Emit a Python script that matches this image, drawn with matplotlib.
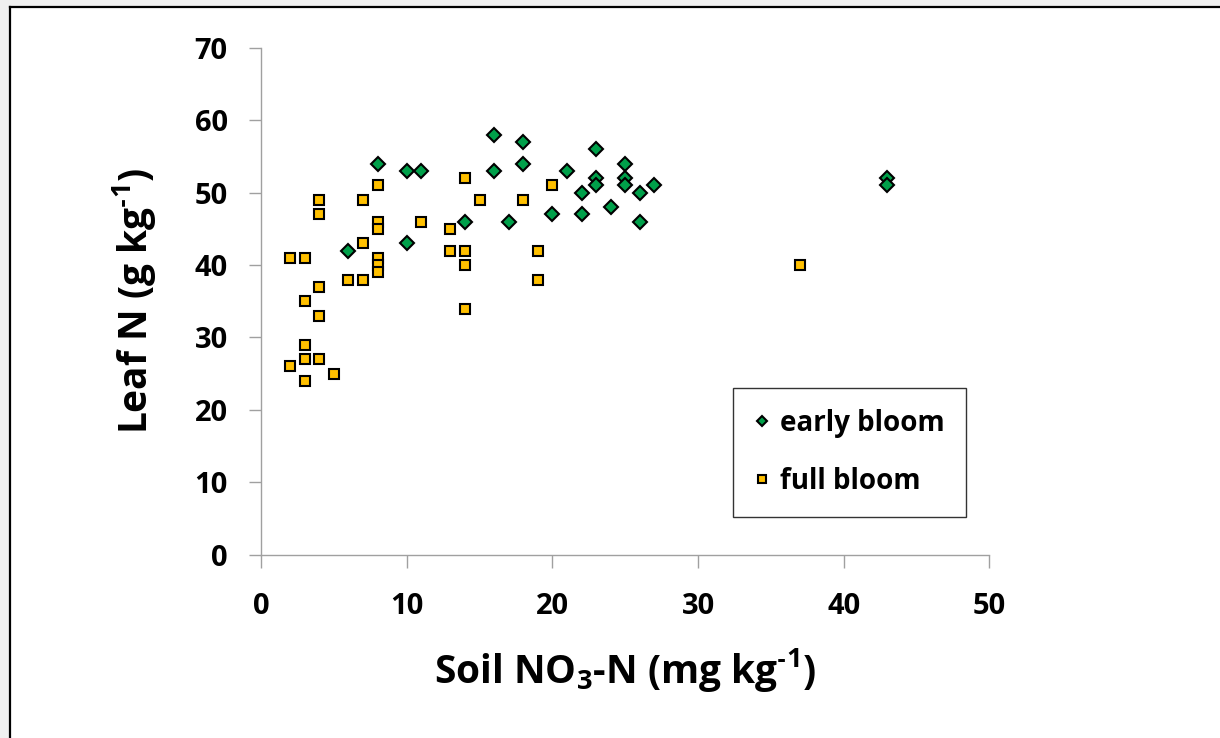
import matplotlib
matplotlib.use('Agg')
import matplotlib.pyplot as plt
from matplotlib.lines import Line2D
from matplotlib.patches import Rectangle

plt.rcParams['font.family'] = ['Open Sans', 'DejaVu Sans']
plt.rcParams['font.weight'] = 'bold'
plt.rcParams['mathtext.fontset'] = 'custom'
plt.rcParams['mathtext.rm'] = 'Open Sans:bold'
plt.rcParams['mathtext.it'] = 'Open Sans:bold'
plt.rcParams['mathtext.bf'] = 'Open Sans:bold'

# early bloom readings (soil NO3-N, leaf N)
early_x = [6, 8, 10, 10, 11, 14, 16, 16, 17, 18, 18, 20, 21, 22, 22, 23, 23, 23,
           24, 25, 25, 25, 26, 26, 27, 43, 43]
early_y = [42, 54, 53, 43, 53, 46, 58, 53, 46, 57, 54, 47, 53, 50, 47, 56, 52, 51,
           48, 54, 52, 51, 50, 46, 51, 52, 51]

# full bloom readings
full_x = [2, 2, 3, 3, 3, 3, 3, 4, 4, 4, 4, 4, 5, 6, 7, 7, 7, 8, 8, 8, 8, 8, 8,
          11, 13, 13, 14, 14, 14, 14, 15, 18, 19, 19, 20, 37]
full_y = [41, 26, 41, 35, 29, 27, 24, 49, 47, 37, 33, 27, 25, 38, 49, 43, 38,
          51, 46, 45, 41, 40, 39, 46, 45, 42, 52, 42, 40, 34, 49, 49, 42, 38, 51, 40]

x_ticks = [0, 10, 20, 30, 40, 50]
y_ticks = [0, 10, 20, 30, 40, 50, 60, 70]

fig = plt.figure(figsize=(12.2, 7.38), dpi=100)
fig.patch.set_facecolor('white')
ax = fig.add_axes([0.214, 0.248, 0.597, 0.6876])

ax.plot(early_x, early_y, linestyle='none', marker='D', markersize=7.3,
        markerfacecolor='#00a04a', markeredgecolor='black', markeredgewidth=1.5,
        label='early bloom', zorder=3)
ax.plot(full_x, full_y, linestyle='none', marker='s', markersize=7.8,
        markerfacecolor='#ffc000', markeredgecolor='black', markeredgewidth=1.5,
        label='full bloom', zorder=3)

ax.set_xlim(0, 50)
ax.set_ylim(0, 70)
ax.set_xticks(x_ticks)
ax.set_yticks(y_ticks)
ax.tick_params(axis='both', direction='out', length=9, width=1, color='#a0a0a0',
               labelsize=21)
ax.tick_params(axis='y', pad=15)
ax.tick_params(axis='x', pad=18)
for lbl in ax.get_xticklabels() + ax.get_yticklabels():
    lbl.set_fontweight('bold')
for side in ['top', 'right']:
    ax.spines[side].set_visible(False)
for side in ['left', 'bottom']:
    ax.spines[side].set_color('#a0a0a0')
    ax.spines[side].set_linewidth(1)
ax.set_xlabel('Soil NO$_{3}$-N (mg kg$^{\u20101}$)', fontsize=28, fontweight='bold',
              labelpad=18)
ax.set_ylabel('Leaf N (g kg$^{\u20101}$)', fontsize=28, fontweight='bold', labelpad=26)

leg = ax.legend(loc='upper left', bbox_to_anchor=(0.648, 0.329),
                prop={'size': 20, 'weight': 'bold'},
                markerscale=0.7, handlelength=0.6, handletextpad=0.35,
                labelspacing=1.05, borderpad=0.75, fancybox=False, framealpha=1,
                borderaxespad=0)
leg.get_frame().set_edgecolor('#333333')
leg.get_frame().set_linewidth(1)

# outer frame of the screenshot
fig.add_artist(Rectangle((0, 1 - 6 / 738), 1, 6 / 738, transform=fig.transFigure,
                         facecolor='#f0f0f0', edgecolor='none'))
fig.add_artist(Rectangle((0, 0), 9 / 1220, 1, transform=fig.transFigure,
                         facecolor='#f0f0f0', edgecolor='none'))
fig.add_artist(Line2D([9.5 / 1220, 1], [1 - 7 / 738, 1 - 7 / 738],
                      transform=fig.transFigure, color='black', linewidth=1.6))
fig.add_artist(Line2D([10 / 1220, 10 / 1220], [0, 1 - 7 / 738],
                      transform=fig.transFigure, color='black', linewidth=1.6))

fig.savefig('out.png', dpi=100, facecolor=fig.get_facecolor())
